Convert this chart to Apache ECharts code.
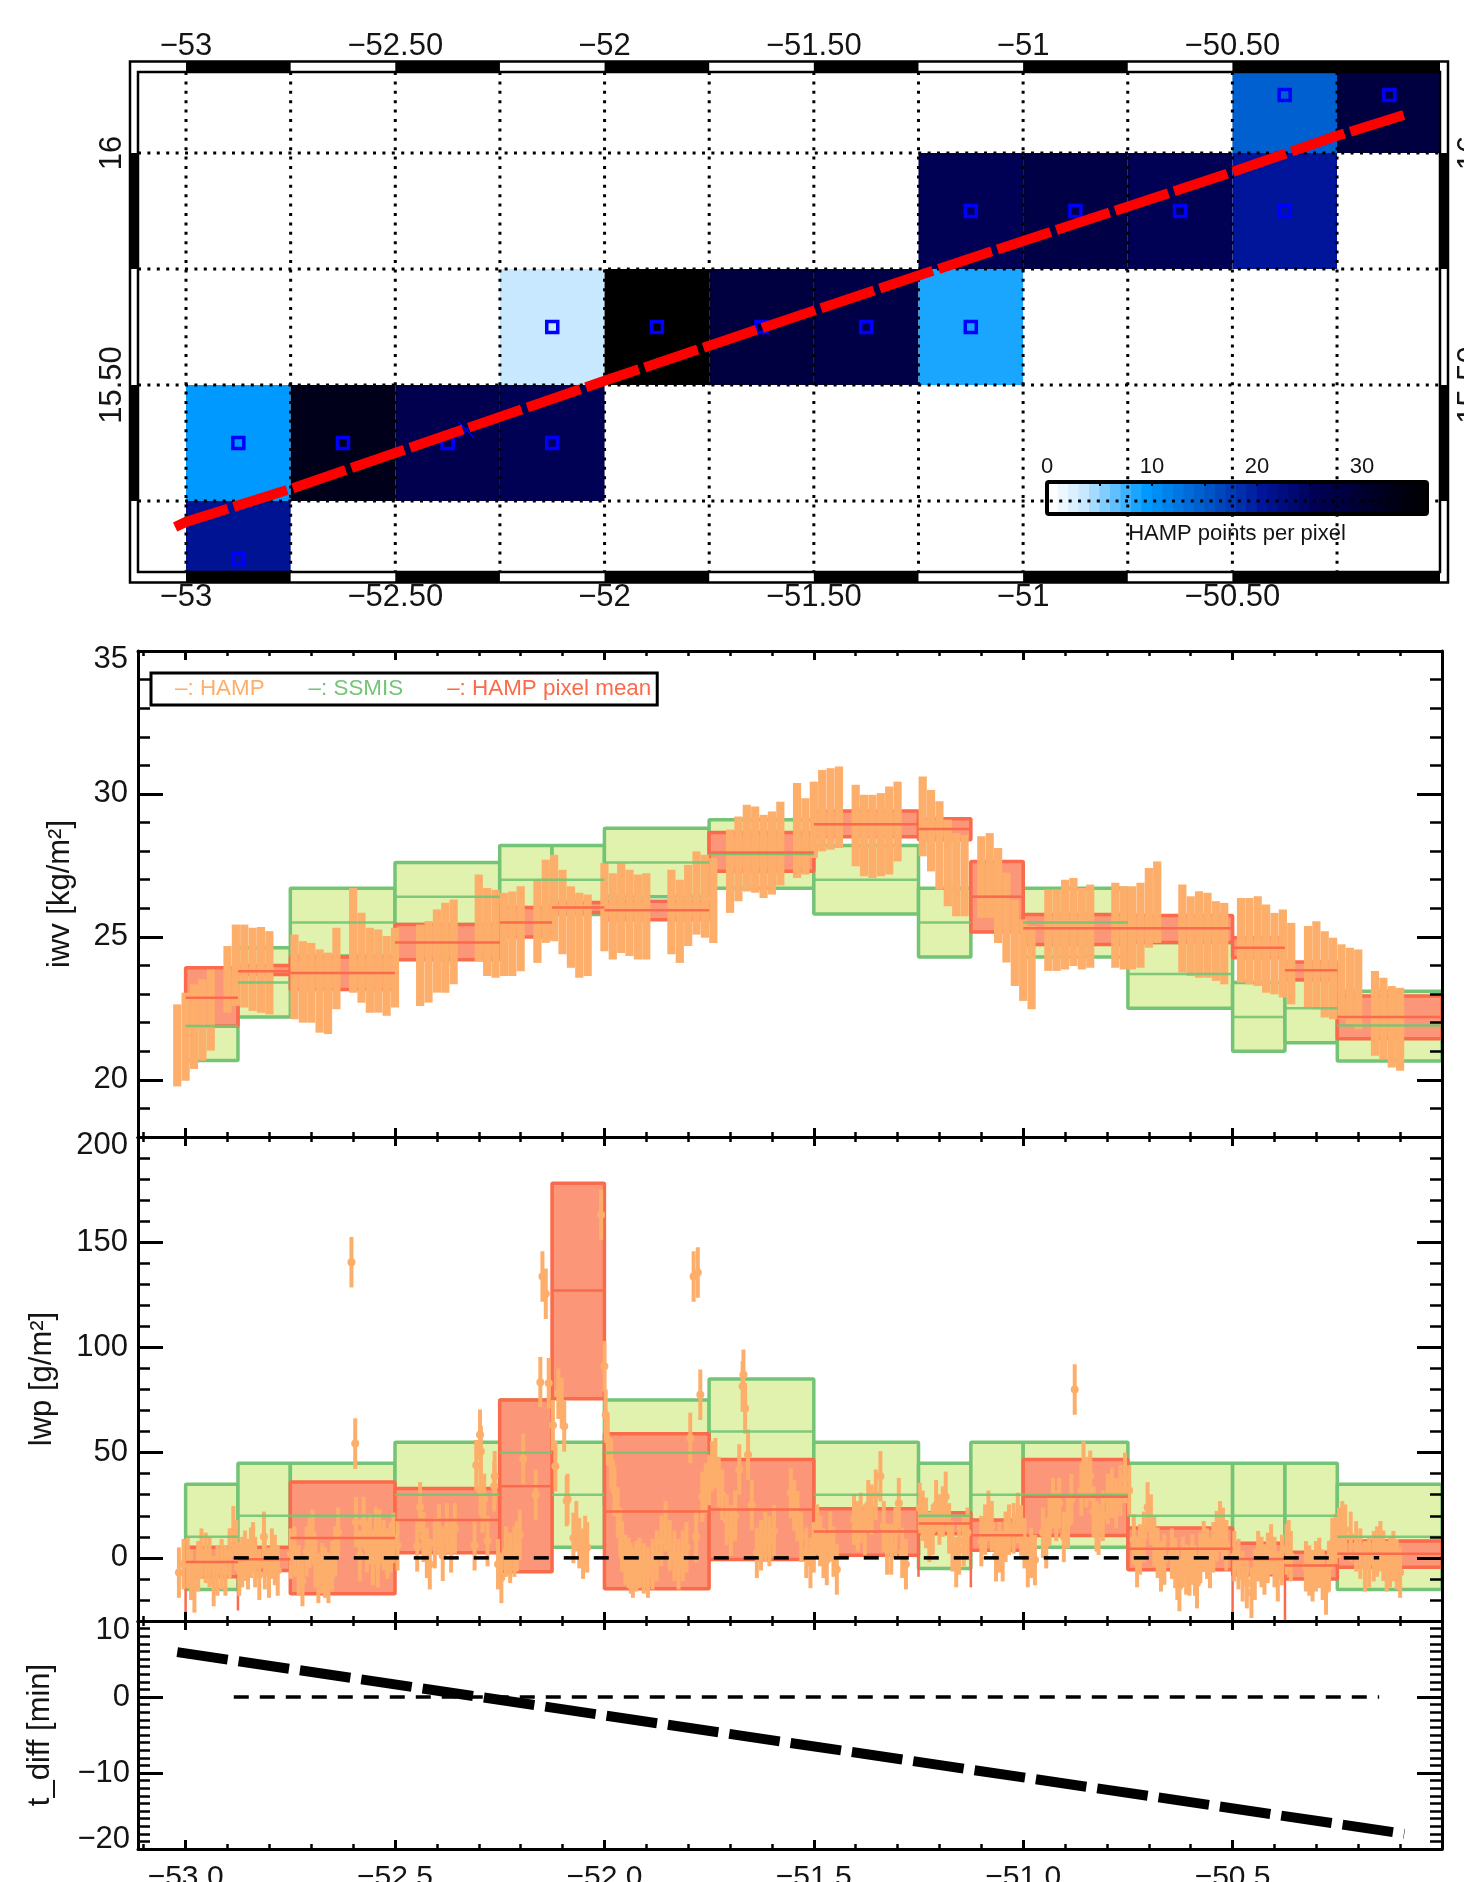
<!DOCTYPE html>
<html>
<head>
<meta charset="utf-8">
<title>HAMP vs SSMIS</title>
<script src="https://cdn.jsdelivr.net/npm/echarts@6/dist/echarts.min.js"></script>
<style>
html,body{margin:0;padding:0;background:#fff;overflow:hidden}
#main{width:1464px;height:1882px;overflow:hidden;filter:blur(0.7px)}
</style>
</head>
<body>
<div id="main"></div>
<script>
// ---------- map panel data ----------
const cellLon   = [-53,-53,-52.75,-52.5,-52.25,-52.25,-52,-51.75,-51.5,-51.25,-51.25,-51,-50.75,-50.5,-50.5,-50.25];
const cellLat   = [15,15.25,15.25,15.25,15.25,15.5,15.5,15.5,15.5,15.5,15.75,15.75,15.75,15.75,16,16];
const cellCount = [20.5,9,32,26,25,3,36,28,27,8,25,27,25,20,14,28];
const lonGrid = [-53,-52.75,-52.5,-52.25,-52,-51.75,-51.5,-51.25,-51,-50.75,-50.5,-50.25];
const latGrid = [16,15.75,15.5,15.25];
const mapLonLabels = [-53,-52.5,-52,-51.5,-51,-50.5];
const mapLatLabels = [16,15.5];
const trackLon = [-53.026,-53,-52.75,-52,-51.25,-50.5,-50.25,-50.09];
const trackLat = [15.194,15.205,15.276,15.509,15.736,15.959,16.037,16.082];
const crossMark = [-52.33,15.403];
const countStops  = [0,3,8,9,14,20,25,28,32,36];
const countColors = [[255,255,255],[200,232,255],[26,165,255],[0,153,255],[0,96,207],[0,21,154],[0,0,85],[0,0,64],[0,0,26],[0,0,0]];
const colorbarTicks = [0,5,10,15,20,25,30,35];
const colorbarLabels = [0,10,20,30];
const frameLonBlack = [[-53,-52.75],[-52.5,-52.25],[-52,-51.75],[-51.5,-51.25],[-51,-50.75],[-50.5,-50.004]];
const frameLatBlack = [[15.75,16],[15.25,15.5]];

// ---------- pixel boxes ----------
const pixelLeft  = [-53,-52.875,-52.75,-52.5,-52.25,-52.125,-52,-51.75,-51.5,-51.25,-51.125,-51,-50.75,-50.5,-50.375,-50.25];
const pixelRight = [-52.875,-52.75,-52.5,-52.25,-52.125,-52,-51.75,-51.5,-51.25,-51.125,-51,-50.75,-50.5,-50.375,-50.25,-50];
const ssmisIwvLow  = [20.68,22.2,24.33,25.43,25.8,25.78,26.4,26.7,25.8,24.3,25.2,24.3,22.5,21,21.3,20.66];
const ssmisIwvMean = [21.88,23.4,25.5,26.4,27,27,27.6,27.9,27,25.5,26.4,25.5,23.7,22.2,22.5,21.9];
const ssmisIwvHigh = [23.1,24.62,26.7,27.6,28.2,28.2,28.8,29.1,28.2,26.7,27.6,26.7,24.8,23.4,23.5,23.1];
const meanIwvLow  = [21.88,23.68,23.16,24.2,25,25.85,25.6,27.3,28.5,28.4,25.17,24.73,24.8,24.27,23.5,21.44];
const meanIwvMean = [22.87,23.8,23.74,24.8,25.5,26.03,25.93,27.95,28.94,28.77,26.4,25.3,25.3,24.62,23.83,22.2];
const meanIwvHigh = [23.92,24,24.3,25.43,26.03,26.2,26.25,28.65,29.4,29.13,27.64,25.78,25.75,24.97,24.12,22.93];
const ssmisLwpLow  = [-15,-5,-5,5,25,5,25,35,5,-5,5,5,-5,-5,-5,-15];
const ssmisLwpMean = [10,20,20,30,50,30,50,60,30,20,30,30,20,20,20,10];
const ssmisLwpHigh = [35,45,45,55,75,55,75,85,55,45,55,55,45,45,45,35];
const meanLwpLow  = [-9,-6,-17,2.4,-6.6,75.6,-14.7,-0.8,1.3,11.5,3.6,10.6,-5.7,-8,-10,-4.4];
const meanLwpMean = [-2,-0.6,9.5,18,34,127,22,23,12.5,16.3,10.8,29,4.3,-0.5,-3.6,1.9];
const meanLwpHigh = [5,5,36,33,75,178,59,46.7,23.4,21.4,18,46.7,14.2,7,2.7,8];
const meanLwpSpikes = [[-53,-9,-28],[-52.875,-6,-25],[-51.25,1.3,-9],[-51.125,3.6,-14],[-50.5,-8,-30],[-50.375,-10,-30]];

// ---------- HAMP along-track: [lon, upper, lower] ----------
const hampIwvBars = [
[-53.02,22.64,19.77],[-53,23.05,19.97],[-52.98,23.34,20.38],[-52.96,23.52,20.67],[-52.94,23.86,21.02],
[-52.9,24.68,22.35],[-52.88,25.43,22.58],[-52.86,25.43,22.53],[-52.84,25.32,22.41],[-52.82,25.35,22.35],[-52.8,25.2,22.29],
[-52.74,25.08,22.12],[-52.72,24.85,22],[-52.7,24.79,22],[-52.68,24.56,21.65],[-52.66,24.45,21.6],[-52.64,25.32,22.47],
[-52.6,26.71,23.05],[-52.58,25.84,22.7],[-52.56,25.32,22.35],[-52.54,25.26,22.35],[-52.52,25.03,22.24],[-52.5,25.32,22.53],
[-52.44,25.43,22.58],[-52.42,25.55,22.7],[-52.4,25.96,23.05],[-52.38,26.19,23.05],[-52.36,26.31,23.34],
[-52.3,27.18,24.15],[-52.28,26.71,23.63],[-52.26,26.65,23.57],[-52.24,26.54,23.63],[-52.22,26.59,23.63],[-52.2,26.77,23.8],
[-52.16,27,24.09],[-52.14,27.7,24.79],[-52.12,27.87,24.85],[-52.1,27.35,24.39],[-52.08,26.77,23.92],[-52.06,26.54,23.57],[-52.04,26.48,23.63],
[-52,27.58,24.5],[-51.98,27.23,24.21],[-51.96,27.58,24.44],[-51.94,27.35,24.33],[-51.92,27.18,24.21],[-51.9,27.23,24.21],
[-51.84,27.35,24.39],[-51.82,27,24.09],[-51.8,27.52,24.68],[-51.78,27.99,25.08],[-51.76,27.87,24.97],[-51.74,27.76,24.79],
[-51.7,28.75,25.84],[-51.68,29.21,26.25],[-51.66,29.62,26.59],[-51.64,29.56,26.54],[-51.62,29.27,26.36],[-51.6,29.39,26.48],[-51.58,29.73,26.8],
[-51.54,30.38,27.06],[-51.52,29.85,27.18],[-51.5,30.43,27.76],[-51.48,30.84,27.99],[-51.46,30.9,28.05],[-51.44,30.96,28.11],
[-51.4,30.32,27.47],[-51.38,29.97,27.12],[-51.36,29.97,27.06],[-51.34,30.03,27.12],[-51.32,30.26,27.18],[-51.3,30.43,27.64],
[-51.24,30.61,27.82],[-51.22,30.14,27.29],[-51.2,29.74,26.66],[-51.18,29.1,26.07],[-51.16,28.63,25.72],[-51.14,28.57,25.72],
[-51.1,28.52,25.67],[-51.08,28.63,25.67],[-51.06,28.11,24.79],[-51.04,27.24,24.1],[-51.02,26.31,23.28],[-51,25.61,22.76],[-50.98,25.38,22.47],
[-50.94,26.66,23.81],[-50.92,26.66,23.81],[-50.9,27,23.86],[-50.88,27.06,23.98],[-50.86,26.71,23.86],[-50.84,26.83,23.92],
[-50.78,26.89,23.92],[-50.76,26.77,23.86],[-50.74,26.77,23.86],[-50.72,26.89,23.92],[-50.7,27.41,24.62],[-50.68,27.64,24.79],
[-50.62,26.83,23.75],[-50.6,26.42,23.63],[-50.58,26.6,23.57],[-50.56,26.54,23.57],[-50.54,26.25,23.46],[-50.52,26.19,23.34],
[-50.48,26.36,23.4],[-50.46,26.36,23.34],[-50.44,26.42,23.28],[-50.42,26.13,23.05],[-50.4,25.84,22.99],[-50.38,25.96,22.88],[-50.36,25.49,22.64],
[-50.32,25.38,22.53],[-50.3,25.55,22.47],[-50.28,25.2,22.18],[-50.26,24.97,22.12],[-50.24,24.74,22.12],[-50.22,24.62,21.95],[-50.2,24.56,21.77],
[-50.16,23.81,20.84],[-50.14,23.57,20.72],[-50.12,23.28,20.43],[-50.1,23.22,20.32]];

// [lon, lwp]
const hampLwpPoints = [
[-53.016,-7],[-53.005,-3],[-52.995,-2.4],[-52.987,-8],[-52.979,-14],[-52.97,-4],[-52.962,2],[-52.952,0],[-52.943,-2],[-52.933,-11],
[-52.924,-6],[-52.914,-3],[-52.905,-6],[-52.895,2],[-52.886,12.6],[-52.879,6],[-52.872,-6],[-52.865,-2],[-52.858,1],[-52.851,-3],
[-52.844,2.4],[-52.839,5],[-52.834,-2],[-52.824,-8],[-52.813,10],[-52.811,-3],[-52.801,-7],[-52.794,2],[-52.787,-1],[-52.78,-6],
[-52.749,2],[-52.74,3],[-52.73,-6],[-52.721,-11],[-52.711,3],[-52.704,7],[-52.697,11],[-52.69,-2],[-52.683,-9.5],[-52.674,-5],
[-52.667,-7],[-52.659,-9.5],[-52.65,-4],[-52.643,3],[-52.636,12],[-52.604,140.5],[-52.595,54.3],[-52.593,17],[-52.584,1],[-52.575,17],
[-52.567,5],[-52.56,9],[-52.553,-1],[-52.546,12],[-52.541,-2],[-52.537,11],[-52.527,6],[-52.518,2],[-52.51,5],[-52.504,9.5],[-52.494,6],
[-52.447,5.5],[-52.44,24],[-52.432,10],[-52.424,2.4],[-52.417,-3],[-52.405,7],[-52.395,13.5],[-52.386,1],[-52.376,14],[-52.366,5],[-52.357,14],
[-52.31,6],[-52.306,44],[-52.297,58.5],[-52.296,32],[-52.295,50.6],[-52.291,24],[-52.287,28],[-52.279,8],[-52.263,34],[-52.262,38.8],
[-52.254,-3],[-52.246,-9.5],[-52.235,3],[-52.225,0],[-52.215,3],[-52.209,5.5],[-52.202,11],[-52.194,47],[-52.164,30],[-52.153,83.5],
[-52.148,133.7],[-52.14,125.5],[-52.133,83],[-52.123,63],[-52.117,43.5],[-52.11,78],[-52.102,73.6],[-52.096,62.5],[-52.09,27],[-52.088,28],
[-52.074,9.5],[-52.067,15],[-52.06,7],[-52.051,2],[-52.046,8],[-52.041,5],[-52.008,163],[-52,91],[-51.997,68],[-51.992,56],[-51.984,45],
[-51.976,32],[-51.968,21.5],[-51.962,12],[-51.958,5.5],[-51.95,-1],[-51.942,-2.4],[-51.937,-5],[-51.932,-7],[-51.924,-4],[-51.916,-2.4],
[-51.906,-5],[-51.896,-7],[-51.885,-3],[-51.875,1],[-51.864,8],[-51.854,15],[-51.844,6],[-51.833,1],[-51.823,-3],[-51.813,1],[-51.804,5],
[-51.795,57],[-51.787,133.7],[-51.781,10],[-51.777,135.6],[-51.771,77.5],[-51.766,29],[-51.758,33],[-51.75,37],[-51.743,43.5],[-51.735,45],
[-51.727,36],[-51.719,30],[-51.708,18],[-51.698,13],[-51.688,20],[-51.678,42],[-51.67,81.5],[-51.668,87],[-51.664,71],[-51.657,49],
[-51.648,25],[-51.636,2.4],[-51.626,6],[-51.616,10],[-51.606,8],[-51.595,13],
[-51.555,30.9],[-51.547,25],[-51.539,19.8],[-51.53,10],[-51.518,2.4],[-51.508,-2.4],[-51.5,5],[-51.492,13.4],[-51.485,8],[-51.477,2.4],[-51.469,-1],[-51.461,10.3],[-51.453,3],[-51.445,-5.5],[-51.404,18.2],[-51.395,15],[-51.388,19],
[-51.378,13.4],[-51.37,25],[-51.362,22.9],[-51.352,30],[-51.341,38.8],[-51.333,15],[-51.325,4],[-51.315,4],[-51.305,12],[-51.297,26],[-51.289,2.4],[-51.28,-3],[-51.247,23.7],[-51.24,20],[-51.232,16.6],[-51.224,10],[-51.216,13.4],
[-51.208,25],[-51.2,18.2],[-51.192,22],[-51.185,29],[-51.177,14],[-51.169,5.5],[-51.16,-2],[-51.153,4],[-51.142,8],[-51.133,11.9],[-51.1,8],[-51.091,13.4],[-51.083,20],[-51.075,15],[-51.065,0.8],[-51.057,5],[-51.049,0.8],[-51.042,10],[-51.034,13.4],
[-51.023,14],[-51.013,19],[-51.005,13],[-50.997,7],[-50.989,-2],[-50.981,2.4],[-50.972,-1],[-50.953,12],[-50.945,7],[-50.937,18],[-50.929,26],[-50.921,20],[-50.914,26],[-50.903,10],[-50.893,16.6],[-50.885,28],[-50.877,80],[-50.861,32],[-50.856,43.5],
[-50.849,36],[-50.84,39],[-50.832,22],[-50.825,15],[-50.82,13.4],[-50.81,20],[-50.798,28],[-50.788,30.9],[-50.778,26],[-50.768,32],[-50.757,38],[-50.747,32],[-50.736,8.7],[-50.728,-2],[-50.721,4],[-50.712,10],[-50.703,24],[-50.695,18.2],[-50.687,8],[-50.679,2.4],
[-50.671,-4],[-50.663,-0.8],[-50.645,2],[-50.637,-2.4],[-50.632,-8],[-50.627,-13.4],[-50.619,-2],[-50.611,-5.5],[-50.603,-6],[-50.596,-0.8],[-50.59,-6],[-50.585,-12],[-50.577,0],[-50.569,5.5],[-50.561,2],[-50.554,-2.4],[-50.546,5],[-50.538,10.3],[-50.53,15],[-50.523,11.9],[-50.515,6],
[-50.496,0.8],[-50.486,-3],[-50.476,-8.7],[-50.466,-12],[-50.455,-16.6],[-50.447,-8],[-50.439,0.8],[-50.431,-2],[-50.424,-5.5],[-50.416,0],[-50.408,4],[-50.4,-2],[-50.392,-8.7],[-50.382,-1],[-50.371,4],[-50.366,6],[-50.361,0.8],[-50.325,-4],
[-50.317,-6],[-50.309,-8.7],[-50.301,-4],[-50.293,-2.4],[-50.285,-8],[-50.277,-15],[-50.27,-4],[-50.262,7],[-50.254,9],[-50.246,11.9],[-50.238,15],[-50.231,13.4],[-50.218,10],[-50.205,5.5],[-50.195,2],[-50.184,-4],[-50.174,-2],[-50.163,0.8],[-50.155,3],[-50.147,5.5],
[-50.14,1],[-50.132,-4],[-50.124,-2],[-50.116,0.8],[-50.108,-3],[-50.1,-7]];
const hampLwpError = 12;

// ---------- time difference ----------
const tDiffLon = [-53.02,-50.09];
const tDiffMin = [5.9,-18];
const zeroLon = [-52.885,-50.15];
const zeroVal = [0,0];

// ---------- axis ticks ----------
const xMajor = [-53,-52.5,-52,-51.5,-51,-50.5,-50];
const xMajorLabels = [-53,-52.5,-52,-51.5,-51,-50.5];
const xMinor = [-53.1,-52.9,-52.8,-52.7,-52.6,-52.4,-52.3,-52.2,-52.1,-51.9,-51.8,-51.7,-51.6,-51.4,-51.3,-51.2,-51.1,-50.9,-50.8,-50.7,-50.6,-50.4,-50.3,-50.2,-50.1];
const iwvMajor = [20,25,30,35];
const iwvMinor = [19,21,22,23,24,26,27,28,29,31,32,33,34];
const iwvLabelAt = [[20,'20'],[25,'25'],[30,'30'],[34.72,'35']];
const lwpMajor = [0,50,100,150,200];
const lwpMinor = [-20,-10,10,20,30,40,60,70,80,90,110,120,130,140,160,170,180,190];
const lwpLabelAt = [[0,'0'],[50,'50'],[100,'100'],[150,'150'],[196.2,'200']];
const tMajor = [-20,-10,0,10];
const tMinor = [-19,-18,-17,-16,-15,-14,-13,-12,-11,-9,-8,-7,-6,-5,-4,-3,-2,-1,1,2,3,4,5,6,7,8,9];
const tLabelAt = [[-18.8,'−20'],[-10,'−10'],[0,'0'],[8.8,'10']];

// ---------- styles ----------
const FONT = '"Liberation Sans", Arial, sans-serif';
const TEXT = '#141414';
const ORANGE = '#fdae6b', GREEN = '#74c476', GREENFILL = '#e0f2ad', RED = '#fb6a4a', REDFILL = '#fc9678';
const LON_MIN = -53.1137, LON_MAX = -50;

function countColor(v){
  let i = 0;
  while(i < countStops.length-2 && v > countStops[i+1]) i++;
  const t = Math.min(1,Math.max(0,(v-countStops[i])/(countStops[i+1]-countStops[i])));
  const a = countColors[i], b = countColors[i+1];
  return 'rgb('+a.map((c,k)=>Math.round(c+(b[k]-c)*t)).join(',')+')';
}
const minusFmt = s => String(s).replace('-','−');

const grid=[], xAxis=[], yAxis=[], series=[];

// grid 0: map, grid 1: colour bar
grid.push({left:138,top:72,width:1302,height:500,outerBoundsMode:'none'});
grid.push({left:1047,top:482,width:380,height:32,outerBoundsMode:'none'});
const labelStyle = {show:true,color:TEXT,fontFamily:FONT,fontSize:31};
function mapLonLabel(v){return Number.isInteger(v)?minusFmt(v):minusFmt(v.toFixed(2));}
function mapLatLabel(v){return Number.isInteger(v)?String(v):v.toFixed(2);}
['bottom','top'].forEach(p=>xAxis.push({type:'value',gridIndex:0,position:p,min:-53.1147,max:-50.004,
  axisLine:{show:false,onZero:false},axisTick:{show:false,customValues:mapLonLabels},splitLine:{show:false},
  axisLabel:Object.assign({},labelStyle,{customValues:mapLonLabels,formatter:mapLonLabel,margin:10})}));
['left','right'].forEach((p,n)=>yAxis.push({type:'value',gridIndex:0,position:p,min:15.097,max:16.1746,
  axisLine:{show:false,onZero:false},axisTick:{show:false,customValues:mapLatLabels},splitLine:{show:false},
  axisLabel:Object.assign({},labelStyle,{customValues:mapLatLabels,formatter:mapLatLabel,margin:n?15:10,rotate:90})}));
// colour bar axes
xAxis.push({type:'value',gridIndex:1,position:'top',min:0,max:36.2,z:12,
  axisLine:{show:false,onZero:false},splitLine:{show:false},
  axisTick:{show:true,inside:true,length:4,lineStyle:{color:'#000',width:2},customValues:colorbarTicks},
  axisLabel:{show:true,color:TEXT,fontFamily:FONT,fontSize:22,margin:4,customValues:colorbarLabels}});
xAxis.push({type:'value',gridIndex:1,position:'bottom',min:0,max:36.2,z:12,
  name:'HAMP points per pixel',nameLocation:'middle',nameGap:9,
  nameTextStyle:{color:TEXT,fontFamily:FONT,fontSize:22},
  axisLine:{show:false,onZero:false},axisTick:{show:false},axisLabel:{show:false},splitLine:{show:false}});
yAxis.push({type:'value',gridIndex:1,min:0,max:1,show:false});

// stacked panels
function addPanel(cfg){
  const g = grid.length;
  grid.push({left:138,top:cfg.top,width:1304,height:cfg.height,outerBoundsMode:'none'});
  const axLine = {show:true,onZero:false,lineStyle:{color:'#000',width:3}};
  const xi = xAxis.length, yi = yAxis.length;
  ['bottom','top'].forEach((p,n)=>xAxis.push({type:'value',gridIndex:g,position:p,min:LON_MIN,max:LON_MAX,z:8,
    axisLine:axLine,splitLine:{show:false},
    axisTick:{show:true,inside:true,length:9,lineStyle:{color:'#000',width:3},customValues:xMajor},
    axisLabel:(n===0&&cfg.xLabels)?{show:true,color:TEXT,fontFamily:FONT,fontSize:30,margin:14,customValues:xMajorLabels,formatter:v=>minusFmt(v.toFixed(1))}:{show:false}}));
  ['left','right'].forEach((p,n)=>{
    const a = {type:'value',gridIndex:g,position:p,min:cfg.ymin,max:cfg.ymax,z:8,
      axisLine:axLine,splitLine:{show:false},
      axisTick:{show:true,inside:true,length:25,lineStyle:{color:'#000',width:3},customValues:cfg.major},
      axisLabel:{show:false}};
    if(n===0){
      const pos = cfg.labels.map(d=>d[0]);
      a.axisLabel = {show:true,color:TEXT,fontFamily:FONT,fontSize:31,margin:cfg.labelMargin,customValues:pos,
        formatter:v=>{const f=cfg.labels.find(d=>Math.abs(d[0]-v)<1e-6);return f?f[1]:'';}};
      a.name = cfg.name; a.nameLocation='middle'; a.nameRotate=90; a.nameGap=cfg.nameGap;
      a.nameTextStyle={color:TEXT,fontFamily:FONT,fontSize:31};
    }
    yAxis.push(a);
  });
  // minor-tick overlay
  const g2 = grid.length;
  grid.push({left:138,top:cfg.top,width:1304,height:cfg.height,outerBoundsMode:'none'});
  ['bottom','top'].forEach(p=>xAxis.push({type:'value',gridIndex:g2,position:p,min:LON_MIN,max:LON_MAX,z:8,
    axisLine:{show:false,onZero:false},splitLine:{show:false},axisLabel:{show:false},
    axisTick:{show:true,inside:true,length:5,lineStyle:{color:'#000',width:2.5},customValues:xMinor}}));
  ['left','right'].forEach(p=>yAxis.push({type:'value',gridIndex:g2,position:p,min:cfg.ymin,max:cfg.ymax,z:8,
    axisLine:{show:false,onZero:false},splitLine:{show:false},axisLabel:{show:false},
    axisTick:{show:true,inside:true,length:12,lineStyle:{color:'#000',width:2.5},customValues:cfg.minor}}));
  return {xi,yi};
}
const iwv = addPanel({top:651,height:486,ymin:18,ymax:35,major:iwvMajor,minor:iwvMinor,labels:iwvLabelAt,labelMargin:10,name:'iwv [kg/m²]',nameGap:62});
const lwp = addPanel({top:1137,height:484,ymin:-30,ymax:200,major:lwpMajor,minor:lwpMinor,labels:lwpLabelAt,labelMargin:10,name:'lwp [g/m²]',nameGap:80});
const tdf = addPanel({top:1621,height:228,ymin:-20,ymax:10,major:tMajor,minor:tMinor,labels:tLabelAt,labelMargin:8,name:'t_diff [min]',nameGap:82,xLabels:true});

// ---------- map series ----------
series.push({type:'custom',name:'cells',xAxisIndex:0,yAxisIndex:0,z:2,clip:true,silent:true,
  data:cellLon.map((l,i)=>[l,cellLat[i],cellCount[i]]),
  renderItem(p,api){
    const a=api.coord([api.value(0),api.value(1)+0.25]), b=api.coord([api.value(0)+0.25,api.value(1)]);
    return {type:'rect',shape:{x:a[0],y:a[1],width:b[0]-a[0],height:b[1]-a[1]},style:{fill:countColor(api.value(2))},
      clipPath:{type:'rect',shape:{x:p.coordSys.x,y:p.coordSys.y,width:p.coordSys.width,height:p.coordSys.height}}};
  }});
series.push({type:'custom',name:'colorbar',xAxisIndex:2,yAxisIndex:2,z:4,silent:true,
  data:[0,1,2,3,4,5,6,7,8,9,10,11,12,13,14,15,16,17,18,19,20,21,22,23,24,25,26,27,28,29,30,31,32,33,34,35,36].map(v=>[v]),
  renderItem(p,api){
    const a=api.coord([api.value(0),1]), b=api.coord([Math.min(api.value(0)+1,36.2),0]);
    return {type:'rect',shape:{x:a[0],y:a[1],width:b[0]-a[0]+0.6,height:b[1]-a[1]},style:{fill:countColor(api.value(0))}};
  }});
series.push({type:'custom',name:'colorbarFrame',xAxisIndex:2,yAxisIndex:2,z:4,silent:true,data:[[0]],
  renderItem(p){const c=p.coordSys;return {type:'rect',z2:5,shape:{x:c.x,y:c.y,width:c.width,height:c.height,r:2},style:{fill:'none',stroke:'#000',lineWidth:4}};}});
series.push({type:'custom',name:'gridDots',xAxisIndex:0,yAxisIndex:0,z:5,silent:true,data:[[0]],
  renderItem(p,api){
    const c=p.coordSys,ch=[];
    const st={fill:'none',stroke:'#000',lineWidth:3,lineDash:[3,6.4]};
    lonGrid.forEach(l=>{const x=api.coord([l,15.5])[0];ch.push({type:'line',shape:{x1:x,y1:c.y,x2:x,y2:c.y+c.height},style:st});});
    latGrid.forEach(l=>{const y=api.coord([-52,l])[1];ch.push({type:'line',shape:{x1:c.x,y1:y,x2:c.x+c.width,y2:y},style:st});});
    return {type:'group',children:ch};
  }});
series.push({type:'scatter',name:'cell centres',xAxisIndex:0,yAxisIndex:0,z:6,silent:true,symbol:'rect',symbolSize:11,
  itemStyle:{color:'rgba(0,0,0,0)',borderColor:'#0000ff',borderWidth:3.5,opacity:1},
  data:cellLon.map((l,i)=>[l+0.125,cellLat[i]+0.125])});
series.push({type:'custom',name:'cross',xAxisIndex:0,yAxisIndex:0,z:6,silent:true,data:[crossMark],
  renderItem(p,api){
    const c=api.coord([api.value(0),api.value(1)]),r=8;
    const st={stroke:'#0000ff',lineWidth:1.6,fill:'none'};
    return {type:'group',children:[
      {type:'line',shape:{x1:c[0]-r,y1:c[1]-r,x2:c[0]+r,y2:c[1]+r},style:st},
      {type:'line',shape:{x1:c[0]-r,y1:c[1]+r,x2:c[0]+r,y2:c[1]-r},style:st}]};
  }});
series.push({type:'line',name:'track',xAxisIndex:0,yAxisIndex:0,z:7,silent:true,symbol:'none',clip:false,
  lineStyle:{color:'#ff0000',width:10,type:[56,6]},data:trackLon.map((l,i)=>[l,trackLat[i]])});
series.push({type:'custom',name:'frame',xAxisIndex:0,yAxisIndex:0,z:8,silent:true,clip:false,data:[[0]],
  renderItem(p,api){
    const c=p.coordSys,ch=[];
    const ox=8,oy=10.5;
    ch.push({type:'rect',shape:{x:c.x-ox,y:c.y-oy,width:c.width+2*ox,height:c.height+2*oy},style:{fill:'none',stroke:'#000',lineWidth:2.5}});
    ch.push({type:'rect',shape:{x:c.x,y:c.y,width:c.width,height:c.height},style:{fill:'none',stroke:'#000',lineWidth:2.5}});
    frameLonBlack.forEach(b=>{
      const x0=api.coord([b[0],15.5])[0],x1=api.coord([b[1],15.5])[0];
      ch.push({type:'rect',shape:{x:x0,y:c.y-oy,width:x1-x0,height:oy},style:{fill:'#000'}});
      ch.push({type:'rect',shape:{x:x0,y:c.y+c.height,width:x1-x0,height:oy},style:{fill:'#000'}});
    });
    frameLatBlack.forEach(b=>{
      const y1=api.coord([-52,b[1]])[1],y0=api.coord([-52,b[0]])[1];
      ch.push({type:'rect',shape:{x:c.x-ox,y:y1,width:ox,height:y0-y1},style:{fill:'#000'}});
      ch.push({type:'rect',shape:{x:c.x+c.width,y:y1,width:ox,height:y0-y1},style:{fill:'#000'}});
    });
    return {type:'group',children:ch};
  }});

// ---------- panel series ----------
function boxSeries(name,ax,low,high,fill,stroke,z){
  series.push({type:'custom',name,xAxisIndex:ax.xi,yAxisIndex:ax.yi,z,silent:true,clip:true,
    data:pixelLeft.map((l,i)=>[l,pixelRight[i],low[i],high[i]]),
    renderItem(p,api){
      const a=api.coord([api.value(0),api.value(3)]),b=api.coord([api.value(1),api.value(2)]);
      return {type:'rect',shape:{x:a[0],y:a[1],width:b[0]-a[0],height:b[1]-a[1],r:1},
        style:{fill,stroke,lineWidth:3.5,lineJoin:'round'}};
    }});
}
function meanSeries(name,ax,mean,stroke,z,width){
  series.push({type:'custom',name,xAxisIndex:ax.xi,yAxisIndex:ax.yi,z,silent:true,
    data:pixelLeft.map((l,i)=>[l,pixelRight[i],mean[i]]),
    renderItem(p,api){
      const a=api.coord([api.value(0),api.value(2)]),b=api.coord([api.value(1),api.value(2)]);
      return {type:'line',shape:{x1:a[0],y1:a[1],x2:b[0],y2:a[1]},style:{fill:'none',stroke,lineWidth:width}};
    }});
}
// iwv
boxSeries('SSMIS',iwv,ssmisIwvLow,ssmisIwvHigh,GREENFILL,GREEN,2);
boxSeries('HAMP pixel mean',iwv,meanIwvLow,meanIwvHigh,REDFILL,RED,3);
series.push({type:'custom',name:'HAMP',xAxisIndex:iwv.xi,yAxisIndex:iwv.yi,z:4,silent:true,data:hampIwvBars,
  renderItem(p,api){
    const x=api.coord([api.value(0),0])[0],t=api.coord([api.value(0),api.value(1)])[1],b=api.coord([api.value(0),api.value(2)])[1];
    return {type:'rect',shape:{x:x-4.1,y:t,width:8.2,height:b-t},style:{fill:ORANGE}};
  }});
meanSeries('SSMIS mean iwv',iwv,ssmisIwvMean,'rgba(116,196,118,0.9)',5,2.5);
meanSeries('HAMP mean iwv',iwv,meanIwvMean,RED,5,2.5);
// lwp
boxSeries('SSMIS lwp',lwp,ssmisLwpLow,ssmisLwpHigh,GREENFILL,GREEN,2);
boxSeries('HAMP pixel mean lwp',lwp,meanLwpLow,meanLwpHigh,REDFILL,RED,3);
series.push({type:'custom',name:'HAMP spikes',xAxisIndex:lwp.xi,yAxisIndex:lwp.yi,z:3,silent:true,clip:true,data:meanLwpSpikes,
  renderItem(p,api){
    const a=api.coord([api.value(0),api.value(1)]),b=api.coord([api.value(0),api.value(2)]);
    return {type:'line',shape:{x1:a[0],y1:a[1],x2:b[0],y2:b[1]},style:{fill:'none',stroke:RED,lineWidth:2.5}};
  }});
series.push({type:'custom',name:'HAMP lwp',xAxisIndex:lwp.xi,yAxisIndex:lwp.yi,z:4,silent:true,clip:true,data:hampLwpPoints,
  renderItem(p,api){
    const v=api.value(1),c=api.coord([api.value(0),v]);
    const lo=Math.max(v-hampLwpError,-30),t=api.coord([api.value(0),v+hampLwpError])[1],b=api.coord([api.value(0),lo])[1];
    return {type:'group',children:[
      {type:'line',shape:{x1:c[0],y1:t,x2:c[0],y2:b},style:{fill:'none',stroke:ORANGE,lineWidth:4}},
      {type:'circle',shape:{cx:c[0],cy:c[1],r:4},style:{fill:ORANGE}}]};
  }});
meanSeries('SSMIS mean lwp',lwp,ssmisLwpMean,'rgba(116,196,118,0.9)',5,2.5);
meanSeries('HAMP mean lwp',lwp,meanLwpMean,RED,5,2.5);
series.push({type:'line',name:'lwp zero',xAxisIndex:lwp.xi,yAxisIndex:lwp.yi,z:6,silent:true,symbol:'none',
  lineStyle:{color:'#000',width:3.5,type:[15,15]},data:zeroLon.map((l,i)=>[l,zeroVal[i]])});
// t_diff
series.push({type:'line',name:'t_diff',xAxisIndex:tdf.xi,yAxisIndex:tdf.yi,z:6,silent:true,symbol:'none',
  lineStyle:{color:'#000',width:10,type:[51,11]},data:tDiffLon.map((l,i)=>[l,tDiffMin[i]])});
series.push({type:'line',name:'t_diff zero',xAxisIndex:tdf.xi,yAxisIndex:tdf.yi,z:6,silent:true,symbol:'none',
  lineStyle:{color:'#000',width:3.5,type:[15,11]},data:zeroLon.map((l,i)=>[l,zeroVal[i]])});

const option = {
  animation:false,
  backgroundColor:'#fff',
  textStyle:{fontFamily:FONT},
  grid,xAxis,yAxis,series,
  legend:{show:true,left:151,top:673,orient:'horizontal',selectedMode:false,icon:'none',itemWidth:0,itemHeight:20,itemGap:39,
    padding:[5,6,5,19],backgroundColor:'#fff',borderColor:'#000',borderWidth:3,z:20,
    formatter:n=>'–: '+n,textStyle:{fontFamily:FONT,fontSize:22.4},
    data:[{name:'HAMP',textStyle:{color:ORANGE}},{name:'SSMIS',textStyle:{color:GREEN}},{name:'HAMP pixel mean',textStyle:{color:RED}}]}
};
const chart = echarts.init(document.getElementById('main'),null,{width:1464,height:1882,renderer:'canvas'});
chart.setOption(option);
</script>
</body>
</html>
